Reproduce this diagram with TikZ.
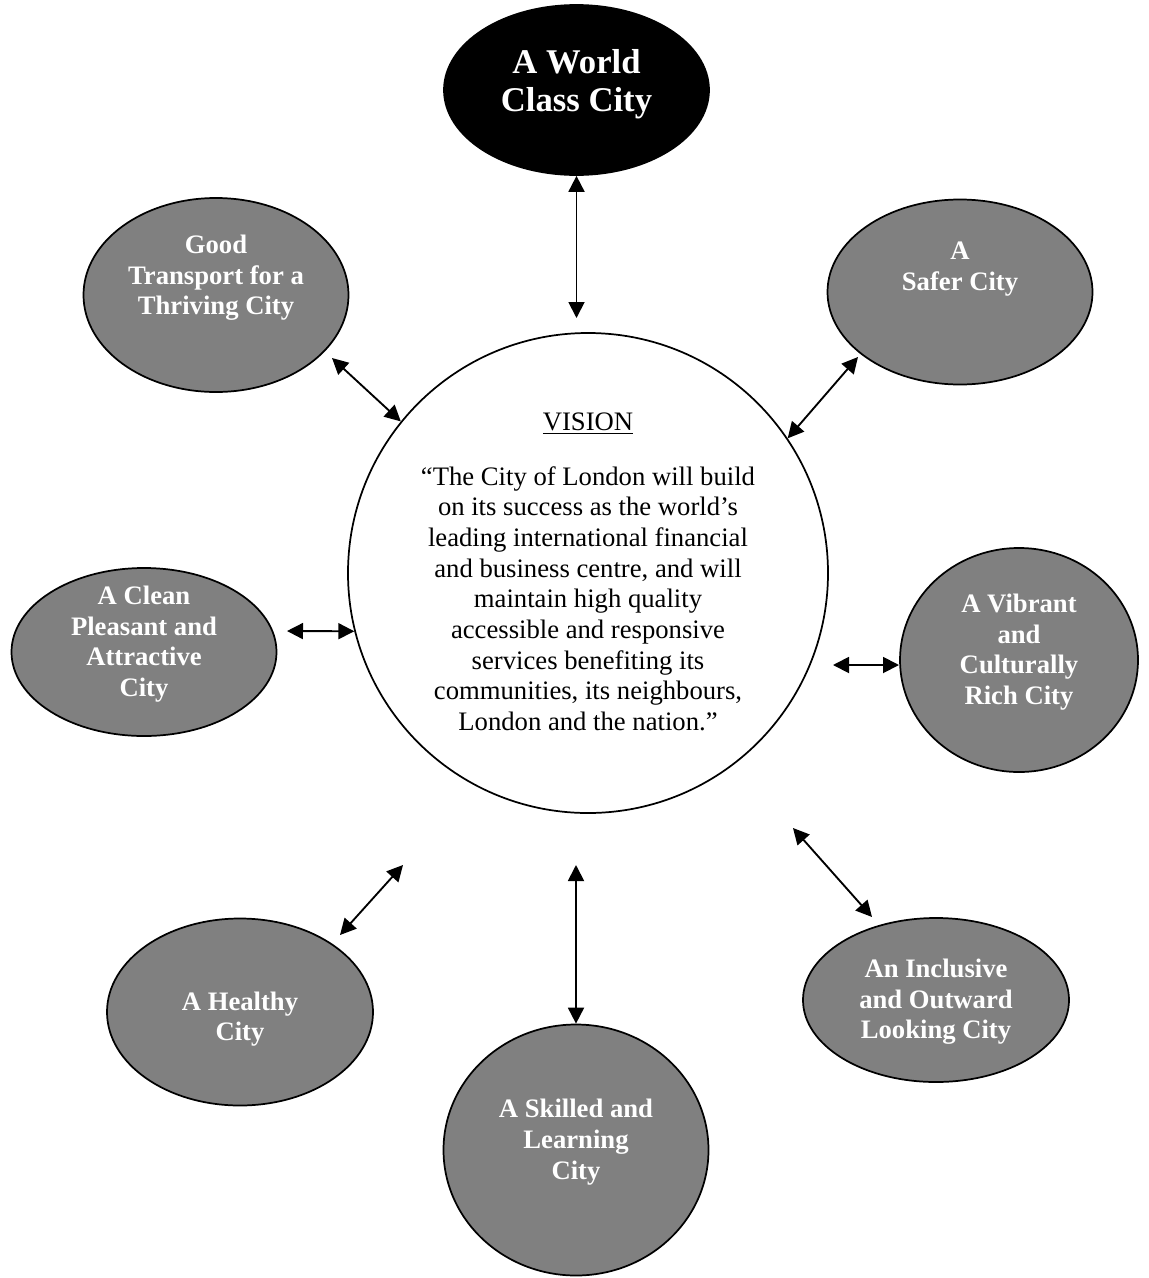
\documentclass[tikz,border=0pt]{standalone}
\usepackage{fontspec}
\setmainfont{Liberation Serif}
\usetikzlibrary{arrows.meta,shapes.geometric}

\tikzset{
  goal/.style={ellipse,draw,line width=1.3pt,fill=gray,inner sep=0pt},
  dims/.style 2 args={minimum width=#1*0.75pt,minimum height=#2*0.75pt},
  goaltext/.style={text=white,align=center,font=\fontsize{20}{23}\selectfont\bfseries},
  link/.style={<->,line width=1.4pt}
}

\begin{document}
\begin{tikzpicture}[x=0.75pt,y=-0.75pt,>={Triangle[length=12pt,width=12pt]}]
  \useasboundingbox (0,0) rectangle (1149,1278);

  % centre
  \node[circle,draw,line width=1.3pt,minimum size=360pt,inner sep=0pt] (vision) at (588,573) {};
  \node[align=center,font=\fontsize{20}{23}\selectfont] (vision-txt) at (588,572)
    {\underline{VISION}\\[18pt]
     ``The City of London will build\\
     on its success as the world's\\
     leading international financial\\
     and business centre, and will\\
     maintain high quality\\
     accessible and responsive\\
     services benefiting its\\
     communities, its neighbours,\\
     London and the nation.''};

  % top
  \node[goal,fill=black,dims={265}{170}] (world) at (576.5,90) {};
  \node[goaltext,font=\fontsize{26}{28.5}\selectfont\bfseries] (world-txt) at (576.5,84) {A World\\Class City};

  % the eight goals
  \node[goal,dims={265}{194}] (transport) at (216,295) {};
  \node[goaltext] (transport-txt) at (216,278) {Good\\Transport for a\\Thriving City};
  \node[goal,dims={265}{185}] (safer) at (960,292) {};
  \node[goaltext] (safer-txt) at (960,269) {A\\Safer City};
  \node[goal,dims={265}{168}] (clean) at (144,652) {};
  \node[goaltext] (clean-txt) at (144,644) {A Clean\\Pleasant and\\Attractive\\City};
  \node[goal,dims={238}{224}] (vibrant) at (1019,660) {};
  \node[goaltext] (vibrant-txt) at (1019,652) {A Vibrant\\and\\Culturally\\Rich City};
  \node[goal,dims={266}{187}] (healthy) at (240,1012) {};
  \node[goaltext] (healthy-txt) at (240,1019) {A Healthy\\City};
  \node[goal,dims={265}{251}] (skilled) at (576,1150) {};
  \node[goaltext] (skilled-txt) at (576,1142) {A Skilled and\\Learning\\City};
  \node[goal,dims={266}{164}] (inclusive) at (936,1000) {};
  \node[goaltext] (inclusive-txt) at (936,1002) {An Inclusive\\and Outward\\Looking City};

  % free arrow ends
  \coordinate (w1) at (576.5,318);
  \coordinate (t1) at (332,358);
  \coordinate (s1) at (858,357);
  \coordinate (c1) at (287,631);
  \coordinate (v1) at (833,665);
  \coordinate (v2) at (899,665);
  \coordinate (h1) at (403,865);
  \coordinate (h2) at (340,935);
  \coordinate (k1) at (576,865);
  \coordinate (i1) at (793,828);
  \coordinate (i2) at (872,917);

  \foreach \a/\b in {world.south/w1,t1/vision.141,s1/vision.34,c1/vision.194,
                     v1/v2,h1/h2,k1/skilled.north,i1/i2}
    \draw[link] (\a) -- (\b);
\end{tikzpicture}
\end{document}
